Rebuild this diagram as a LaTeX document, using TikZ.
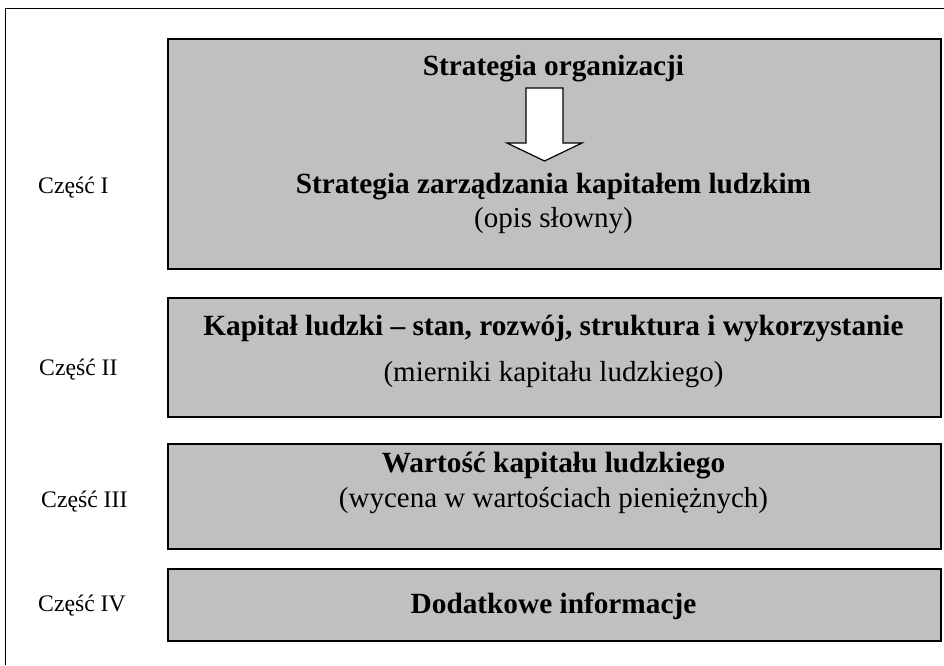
\documentclass[tikz,border=0pt]{standalone}
\usepackage{fontspec}
\setmainfont{Liberation Serif}
\definecolor{boxgray}{HTML}{C0C0C0}
\tikzset{
  partbox/.style={draw=black, fill=boxgray, line width=1.8pt, inner sep=0pt, anchor=north west},
  boxtitle/.style={anchor=base, inner sep=0pt, font=\fontsize{29.3}{35}\selectfont\bfseries},
  boxnote/.style={anchor=base, inner sep=0pt, font=\fontsize{29}{35}\selectfont},
  partlabel/.style={anchor=base west, inner sep=0pt, font=\fontsize{23.7}{28}\selectfont}
}
\begin{document}
\begin{tikzpicture}[x=1pt, y=-1pt]
        \useasboundingbox (0,0) rectangle (944,665);

        % frame (only top and left edge visible)
        \draw[black, line width=1.8pt] (5.5,665) -- (5.5,8.5) -- (944,8.5);

        % the four parts
        \node[partbox, minimum width=773pt, minimum height=230pt] (p1) at (167,38) {};
        \node[partbox, minimum width=773pt, minimum height=119pt] (p2) at (167,297) {};
        \node[partbox, minimum width=773pt, minimum height=105pt] (p3) at (167,443) {};
        \node[partbox, minimum width=773pt, minimum height=72pt] (p4) at (167,568) {};

        % part I
        \node[boxtitle] (org) at (553.5,75) {Strategia organizacji};
        \node[boxtitle] (zkl) at (553.5,193) {Strategia zarządzania kapitałem ludzkim};
        \node[boxnote] (opis) at (553.5,227) {(opis słowny)};
        \draw[black, fill=white, line width=1.2pt] (526,88) -- (563,88) -- (563,143) -- (582,143)
            -- (544.5,161) -- (507,143) -- (526,143) -- cycle;

        % part II
        \node[boxtitle] (kl) at (553.5,335) {Kapitał ludzki – stan, rozwój, struktura i wykorzystanie};
        \node[boxnote] (mier) at (553.5,381) {(mierniki kapitału ludzkiego)};

        % part III
        \node[boxtitle] (wart) at (553.5,472) {Wartość kapitału ludzkiego};
        \node[boxnote] (wyc) at (553.5,507) {(wycena w wartościach pieniężnych)};

        % part IV
        \node[boxtitle] (dod) at (553.5,613) {Dodatkowe informacje};

        % labels on the left
        \node[partlabel] (c1) at (38,193) {Część I};
        \node[partlabel] (c2) at (39,375) {Część II};
        \node[partlabel] (c3) at (41,507) {Część III};
        \node[partlabel] (c4) at (38,611) {Część IV};
    \end{tikzpicture}
\end{document}
